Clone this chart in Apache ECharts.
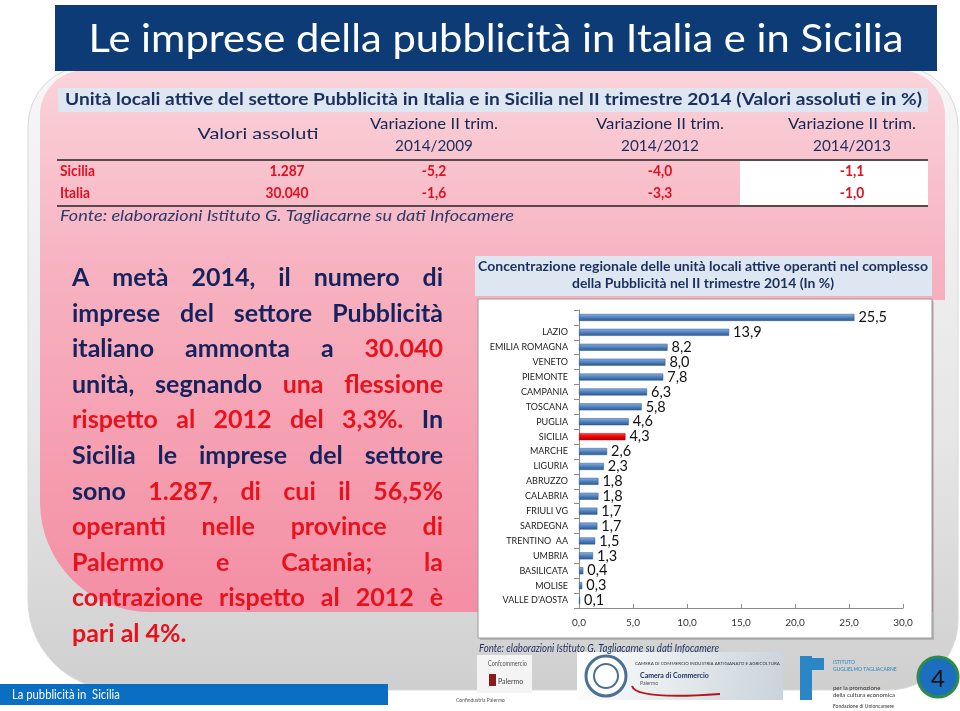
<!DOCTYPE html>
<html><head><meta charset="utf-8">
<script src="https://cdn.jsdelivr.net/npm/echarts@6/dist/echarts.min.js"></script>
<style>html,body{margin:0;padding:0;background:#fff}#c{width:960px;height:711px}</style>
</head><body><div id="c"></div>
<script>
// ---------- DATA ----------
const regions = ['', 'LAZIO', 'EMILIA ROMAGNA', 'VENETO', 'PIEMONTE', 'CAMPANIA', 'TOSCANA', 'PUGLIA', 'SICILIA', 'MARCHE', 'LIGURIA', 'ABRUZZO', 'CALABRIA', 'FRIULI VG', 'SARDEGNA', 'TRENTINO  AA', 'UMBRIA', 'BASILICATA', 'MOLISE', "VALLE D'AOSTA"];
const shares = [25.5, 13.9, 8.2, 8.0, 7.8, 6.3, 5.8, 4.6, 4.3, 2.6, 2.3, 1.8, 1.8, 1.7, 1.7, 1.5, 1.3, 0.4, 0.3, 0.1];
const highlightRegion = 'SICILIA';
const xMin = 0, xMax = 30, xStep = 5;

const tableTitle = 'Unità locali attive del settore Pubblicità in Italia e in Sicilia nel II trimestre 2014 (Valori assoluti e in %)';
const tableRowNames = ['Sicilia', 'Italia'];
const tableAbsolute = ['1.287', '30.040'];
const tableVar2009 = [-5.2, -1.6];
const tableVar2012 = [-4.0, -3.3];
const tableVar2013 = [-1.1, -1.0];
const tablePeriods = ['2014/2009', '2014/2012', '2014/2013'];
const sourceText = 'Fonte: elaborazioni Istituto G. Tagliacarne su dati Infocamere';
const slideTitle = 'Le imprese della pubblicità in Italia e in Sicilia';
const chartTitle1 = 'Concentrazione regionale delle unità locali attive operanti nel complesso';
const chartTitle2 = 'della Pubblicità nel II trimestre 2014 (In %)';

const NAVY = '#14235e', RED = '#e8121c';
const paragraph = [
  [['A metà 2014, il numero di', NAVY]],
  [['imprese del settore Pubblicità', NAVY]],
  [['italiano ammonta a', NAVY], ['30.040', RED]],
  [['unità, segnando', NAVY], ['una flessione', RED]],
  [['rispetto al 2012 del 3,3%.', RED], ['In', NAVY]],
  [['Sicilia le imprese del settore', NAVY]],
  [['sono', NAVY], ['1.287, di cui il 56,5%', RED]],
  [['operanti nelle province di', RED]],
  [['Palermo e Catania; la', RED]],
  [['contrazione rispetto al 2012 è', RED]],
  [['pari al 4%.', RED]]
];

// ---------- helpers ----------
const ctx = document.createElement('canvas').getContext('2d');
function tw(text, size, weight, family, style) {
  ctx.font = (style || 'normal') + ' ' + (weight || 'normal') + ' ' + size + 'px ' + family;
  return ctx.measureText(text).width;
}
const FAM = 'Lato';
function T(x, y, text, o) {
  o = o || {};
  const fam = o.family || FAM;
  let sx = 1;
  if (o.width) sx = o.width / tw(text, o.size, o.weight, fam, o.italic ? 'italic' : 'normal');
  if (o.scale) sx = o.scale;
  return {
    type: 'text', x: x, y: y, scaleX: sx, z: o.z || 10, silent: true,
    style: {
      text: text, fill: o.color || '#000', fontSize: o.size, fontWeight: o.weight || 'normal',
      fontFamily: fam, fontStyle: o.italic ? 'italic' : 'normal',
      textAlign: o.align || 'left', textVerticalAlign: o.va || 'middle'
    }
  };
}
const fmt = v => v.toFixed(1).replace('.', ',');
const LG = (x0, y0, x1, y1, stops, glob) => new echarts.graphic.LinearGradient(x0, y0, x1, y1, stops.map(s => ({offset: s[0], color: s[1]})), !!glob);
const frameStops = [[0, '#f7f7f7'], [0.6, '#e6e6e6'], [1, '#cfcfcf']];

const g = [];
// background frame
g.push({type: 'rect', z: -20, shape: {x: 28, y: 66, width: 930, height: 624, r: [60, 60, 70, 90]},
  style: {fill: LG(0, 66, 0, 690, frameStops, true), stroke: '#d9d9d9', lineWidth: 1}});
// pink area
g.push({type: 'rect', z: -19, shape: {x: 40, y: 70, width: 905, height: 542, r: [45, 45, 0, 110]},
  style: {fill: LG(0, 0, 0, 1, [[0, '#fad3da'], [0.35, '#f7b3c1'], [1, '#f48ea4']])}});
g.push({type: 'rect', z: -18, shape: {x: 933, y: 300, width: 13, height: 313},
  style: {fill: LG(0, 66, 0, 690, frameStops, true)}});
// header
g.push({type: 'rect', z: -5, shape: {x: 55, y: 5, width: 882, height: 66}, style: {fill: '#0d3b76'}});
g.push(T(496, 40, slideTitle, {size: 38, color: '#fff', align: 'center', width: 815}));

// table
g.push({type: 'rect', z: -5, shape: {x: 58, y: 88, width: 870, height: 24}, style: {fill: '#dde6f1'}});
g.push(T(65, 100, tableTitle, {size: 17, weight: 'bold', color: '#1a2f5e', width: 857}));
const colX = [287, 434, 660, 852];
g.push(T(258, 134, 'Valori assoluti', {size: 16, color: '#142856', align: 'center', width: 121}));
for (let i = 0; i < 3; i++) {
  g.push(T(colX[i + 1], 124, 'Variazione II trim.', {size: 16, color: '#142856', align: 'center', width: 128}));
  g.push(T(colX[i + 1], 146, tablePeriods[i], {size: 16, color: '#1a2f5e', align: 'center', width: 78}));
}
g.push({type: 'rect', z: -4, shape: {x: 740, y: 161, width: 188, height: 44}, style: {fill: '#ffffff'}});
g.push({type: 'line', z: 5, shape: {x1: 57, y1: 160, x2: 928, y2: 160}, style: {stroke: '#222', lineWidth: 1.5}});
g.push({type: 'line', z: 5, shape: {x1: 57, y1: 206, x2: 928, y2: 206}, style: {stroke: '#222', lineWidth: 1.5}});
const rowY = [171, 193];
for (let r = 0; r < 2; r++) {
  g.push(T(60, rowY[r], tableRowNames[r], {size: 16, weight: 'bold', color: '#e01020', scale: 0.86}));
  g.push(T(colX[0], rowY[r], tableAbsolute[r], {size: 16, weight: 'bold', color: '#e01020', align: 'center', scale: 0.86}));
  g.push(T(colX[1], rowY[r], fmt(tableVar2009[r]), {size: 16, weight: 'bold', color: '#e01020', align: 'center', scale: 0.86}));
  g.push(T(colX[2], rowY[r], fmt(tableVar2012[r]), {size: 16, weight: 'bold', color: '#e01020', align: 'center', scale: 0.86}));
  g.push(T(colX[3], rowY[r], fmt(tableVar2013[r]), {size: 16, weight: 'bold', color: '#e01020', align: 'center', scale: 0.86}));
}
g.push(T(60, 216, sourceText, {size: 15, italic: true, color: '#2a3a6a', width: 454}));

// paragraph, justified
(function () {
  const S = 25, left = 72, right = 443, target = right - left, top = 278, lh = 35.6;
  const sp = tw(' ', S, 'bold', FAM);
  const lines = paragraph.map(segs => {
    const words = [];
    segs.forEach(s => s[0].split(' ').forEach(w => { if (w) words.push({t: w, c: s[1], w: tw(w, S, 'bold', FAM)}); }));
    return words;
  });
  let k = 1;
  lines.forEach((ws, i) => {
    if (i === lines.length - 1) return;
    const nat = ws.reduce((a, b) => a + b.w, 0) + sp * (ws.length - 1);
    k = Math.min(k, target / nat);
  });
  lines.forEach((ws, i) => {
    const sum = ws.reduce((a, b) => a + b.w, 0) * k;
    const last = i === lines.length - 1;
    const gap = last || ws.length < 2 ? sp * k : (target - sum) / (ws.length - 1);
    let x = left;
    ws.forEach(w => {
      g.push(T(x, top + lh * i, w.t, {size: S, weight: 'bold', color: w.c, scale: k}));
      x += w.w * k + gap;
    });
  });
})();

// chart panel
g.push({type: 'rect', z: -5, shape: {x: 475, y: 256, width: 457, height: 40}, style: {fill: '#dde6f1'}});
g.push(T(703, 267, chartTitle1, {size: 13.5, weight: 'bold', color: '#1a2f5e', align: 'center', width: 450}));
g.push(T(703, 284, chartTitle2, {size: 13.5, weight: 'bold', color: '#1a2f5e', align: 'center', width: 262}));
g.push({type: 'rect', z: -6, shape: {x: 480, y: 301, width: 454, height: 339}, style: {fill: 'rgba(0,0,0,0.15)'}});
g.push({type: 'rect', z: -5, shape: {x: 478, y: 299, width: 454, height: 339}, style: {fill: '#ffffff', stroke: '#9a9a9a', lineWidth: 1}});
g.push(T(479, 649, sourceText, {size: 10.5, italic: true, color: '#1a2f5e', width: 240}));

// footer
g.push({type: 'rect', z: -5, shape: {x: 0, y: 684, width: 388, height: 21}, style: {fill: '#0a6fc2'}});
g.push(T(12, 695, 'La pubblicità in  Sicilia', {size: 12.5, color: '#fff', scale: 0.9}));
// logos (approximate)
g.push({type: 'rect', z: -5, shape: {x: 477, y: 655, width: 55, height: 38}, style: {fill: '#f4f4f4'}});
g.push(T(488, 664, 'Confcommercio', {size: 7, color: '#555', scale: 0.8}));
g.push({type: 'rect', z: -4, shape: {x: 489, y: 674, width: 7, height: 12}, style: {fill: '#8b1a1a'}});
g.push(T(498, 682, 'Palermo', {size: 7, color: '#444'}));
g.push(T(456, 700, 'Confindustria Palermo', {size: 5, color: '#555'}));
g.push({type: 'rect', z: -5, shape: {x: 577, y: 652, width: 206, height: 48},
  style: {fill: LG(0, 0, 1, 1, [[0, '#ffffff'], [1, '#c9d3da']])}});
g.push({type: 'circle', z: -4, shape: {cx: 606, cy: 676, r: 20}, style: {fill: '#fff', stroke: '#4d6f93', lineWidth: 3}});
g.push({type: 'circle', z: -4, shape: {cx: 606, cy: 676, r: 12}, style: {fill: 'none', stroke: '#4d6f93', lineWidth: 2}});
g.push(T(635, 664, 'CAMERA DI COMMERCIO INDUSTRIA ARTIGIANATO E AGRICOLTURA', {size: 4.5, color: '#333'}));
g.push(T(640, 676, 'Camera di Commercio', {size: 7, color: '#1a2f5e', weight: 'bold'}));
g.push(T(640, 683, 'Palermo', {size: 5, color: '#555'}));
g.push({type: 'bezierCurve', z: -4, shape: {x1: 632, y1: 686, x2: 720, y2: 694, cpx1: 636, cpy1: 700}, style: {fill: 'none', stroke: '#b01818', lineWidth: 2}});
g.push({type: 'rect', z: -4, shape: {x: 800, y: 656, width: 12, height: 44}, style: {fill: '#2b86c5'}});
g.push({type: 'rect', z: -4, shape: {x: 800, y: 658, width: 24, height: 12}, style: {fill: '#2b86c5'}});
g.push(T(833, 662, 'ISTITUTO', {size: 5, color: '#2b86c5'}));
g.push(T(833, 669, 'GUGLIELMO TAGLIACARNE', {size: 5, color: '#2b86c5'}));
g.push(T(833, 688, 'per la promozione', {size: 6, color: '#333'}));
g.push(T(833, 695, 'della cultura economica', {size: 6, color: '#333'}));
g.push(T(833, 706, 'Fondazione di Unioncamere', {size: 5, color: '#333'}));
g.push({type: 'circle', z: 0, shape: {cx: 938, cy: 677, r: 20}, style: {fill: '#1c6fbf', stroke: '#2e8b4a', lineWidth: 3}});
g.push(T(938, 679, '4', {size: 24, color: '#111', align: 'center'}));

const chart = echarts.init(document.getElementById('c'), null, {renderer: 'canvas'});
chart.setOption({
  backgroundColor: '#ffffff',
  animation: false,
  graphic: {elements: g},
  grid: {left: 579, top: 310, width: 324, height: 298, containLabel: false},
  xAxis: {
    type: 'value', min: xMin, max: xMax, interval: xStep,
    axisLine: {show: true, lineStyle: {color: '#8c8c8c'}},
    axisTick: {show: true, inside: true, length: 4, lineStyle: {color: '#8c8c8c'}},
    axisLabel: {fontSize: 10, color: '#333', fontFamily: FAM, margin: 10, formatter: v => fmt(v)},
    splitLine: {show: false}
  },
  yAxis: {
    type: 'category', data: regions, inverse: true,
    axisLine: {show: true, lineStyle: {color: '#8c8c8c'}},
    axisTick: {show: true, length: 5, lineStyle: {color: '#8c8c8c'}},
    axisLabel: {fontSize: 9, color: '#222', fontFamily: FAM, margin: 11}
  },
  series: [{
    type: 'bar', barWidth: 7,
    data: shares.map((v, i) => ({
      value: v,
      itemStyle: regions[i] === highlightRegion ? {
        color: LG(0, 0, 0, 1, [[0, '#ff4a4a'], [0.5, '#ee0000'], [1, '#b00000']]),
        borderColor: '#a00000', borderWidth: 0.5
      } : {
        color: LG(0, 0, 0, 1, [[0, '#8cb0e2'], [0.5, '#4f81bd'], [1, '#2c578f']]),
        borderColor: '#2c578f', borderWidth: 0.5
      }
    })),
    label: {show: true, position: 'right', distance: 4, fontSize: 14.5, color: '#111', fontFamily: FAM, formatter: p => fmt(p.value)}
  }]
});
</script></body></html>
